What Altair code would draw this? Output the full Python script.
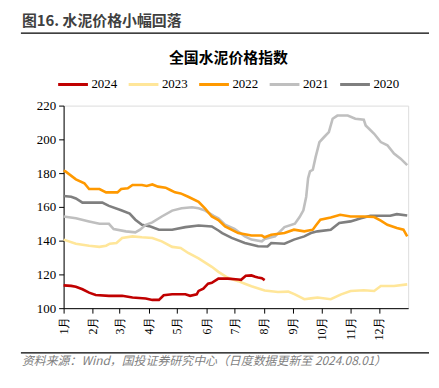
import altair as alt
import pandas as pd

years = ["2024", "2023", "2022", "2021", "2020"]
colors = ["#c00000", "#ffe699", "#ff9900", "#bfbfbf", "#7f7f7f"]

month_starts = [0, 31, 59, 90, 120, 151, 181, 212, 243, 273, 304, 334]
month_labels = ["1月", "2月", "3月", "4月", "5月", "6月", "7月", "8月", "9月", "10月", "11月", "12月"]
y_ticks = [100, 120, 140, 160, 180, 200, 220]

days_2024 = [0, 8, 13, 20, 27, 34, 48, 62, 73, 87, 94, 101, 106, 115, 129, 134, 141, 143, 148, 153, 157, 164, 174, 185, 188, 193, 199, 203, 206, 210, 213]
vals_2024 = [113.5, 113.2, 112.7, 111.2, 109.2, 107.8, 107.3, 107.3, 106.3, 105.7, 104.9, 104.9, 107.6, 108.2, 108.2, 107.3, 108.2, 110.2, 111.6, 114.5, 115.0, 117.5, 117.5, 117.0, 116.8, 119.2, 119.4, 118.6, 118.2, 117.8, 116.6]

days_2023 = [0, 13, 27, 38, 45, 49, 56, 62, 73, 83, 94, 104, 115, 124, 132, 143, 150, 157, 164, 174, 185, 192, 199, 213, 227, 238, 245, 255, 262, 269, 283, 294, 304, 318, 329, 336, 350, 364]
vals_2023 = [140.6, 138.2, 137.0, 136.3, 137.0, 138.2, 138.6, 141.6, 142.5, 142.0, 141.6, 139.6, 136.3, 135.7, 132.7, 129.5, 127.0, 124.5, 121.5, 118.0, 116.0, 114.5, 113.0, 110.5, 109.6, 109.8, 108.2, 105.3, 105.8, 106.3, 105.3, 108.2, 110.2, 110.6, 110.2, 113.1, 113.1, 114.1]

days_2022 = [0, 2, 13, 22, 27, 38, 45, 57, 61, 68, 73, 83, 88, 94, 100, 108, 113, 118, 124, 132, 143, 150, 157, 164, 171, 185, 199, 210, 213, 220, 234, 244, 255, 264, 267, 272, 283, 293, 304, 318, 329, 336, 343, 353, 360, 364]
vals_2022 = [181.5, 181.0, 176.3, 174.0, 170.6, 170.6, 168.6, 168.6, 170.6, 171.0, 173.0, 173.0, 172.4, 173.3, 172.0, 171.4, 170.0, 168.6, 168.0, 166.0, 163.0, 159.0, 154.3, 152.2, 148.4, 144.5, 143.0, 143.0, 142.0, 143.5, 144.5, 146.5, 145.5, 146.5, 148.8, 152.4, 153.7, 155.3, 154.3, 154.3, 154.0, 151.8, 149.4, 147.5, 146.5, 142.5]

days_2021 = [0, 13, 27, 38, 48, 53, 66, 76, 81, 87, 94, 104, 115, 125, 136, 143, 150, 159, 164, 171, 181, 192, 199, 210, 213, 224, 234, 245, 250, 254, 257, 259, 261, 264, 267, 271, 276, 281, 285, 290, 301, 309, 318, 320, 329, 336, 343, 350, 357, 364]
vals_2021 = [154.3, 153.3, 151.4, 150.0, 150.0, 146.9, 145.5, 144.9, 146.5, 149.4, 150.8, 154.3, 157.8, 159.2, 159.8, 159.2, 157.8, 154.7, 153.3, 149.4, 146.9, 142.5, 140.6, 139.6, 141.0, 142.5, 148.0, 150.0, 154.0, 158.0, 166.0, 177.0, 181.0, 182.0, 189.6, 198.4, 201.4, 204.3, 212.2, 214.1, 214.1, 212.2, 211.6, 208.2, 203.3, 198.4, 196.5, 191.6, 188.6, 184.7]

days_2020 = [0, 8, 13, 20, 41, 48, 61, 70, 76, 83, 92, 101, 115, 129, 143, 157, 164, 168, 178, 192, 206, 216, 220, 234, 244, 255, 262, 269, 283, 292, 304, 315, 325, 346, 353, 364]
vals_2020 = [166.5, 166.0, 165.0, 162.5, 162.5, 160.6, 158.0, 156.0, 152.4, 149.4, 148.4, 146.5, 146.5, 148.0, 149.0, 148.4, 146.0, 144.5, 141.6, 138.6, 136.7, 136.5, 138.6, 138.2, 140.6, 142.5, 144.5, 145.5, 146.5, 150.4, 151.4, 153.3, 154.7, 154.7, 155.7, 154.9]

series = {
    "2024": (days_2024, vals_2024),
    "2023": (days_2023, vals_2023),
    "2022": (days_2022, vals_2022),
    "2021": (days_2021, vals_2021),
    "2020": (days_2020, vals_2020),
}
rows = []
for i, y in enumerate(["2020", "2021", "2022", "2023", "2024"]):
    d, v = series[y]
    for dd, vv in zip(d, v):
        rows.append({"day": dd, "value": vv, "year": y, "order": i})
df = pd.DataFrame(rows)

label_expr = "[" + ",".join("'%s'" % m for m in month_labels) + "][indexof([" + ",".join(str(m) for m in month_starts) + "], datum.value)]"

serif = "Liberation Serif"
cjk = "Noto Sans CJK SC"

lines = alt.Chart(df).mark_line(strokeWidth=2.6, interpolate="linear").encode(
    x=alt.X("day:Q", scale=alt.Scale(domain=[0, 365], nice=False, zero=False),
            axis=alt.Axis(values=month_starts, labelExpr=label_expr, labelAngle=270,
                          title=None, grid=False, tickSize=5, labelFontSize=12,
                          labelFont=serif, labelPadding=3, labelColor="#000",
                          domainColor="#000", tickColor="#000")),
    y=alt.Y("value:Q", scale=alt.Scale(domain=[100, 220], nice=False, zero=False),
            axis=alt.Axis(values=y_ticks, title=None, grid=False, tickSize=5,
                          labelFontSize=13, labelFont=serif, labelPadding=3,
                          labelColor="#000", domainColor="#000", tickColor="#000")),
    color=alt.Color("year:N", scale=alt.Scale(domain=years, range=colors),
                    legend=alt.Legend(title=None, orient="none", direction="horizontal",
                                      legendX=-7, legendY=-38, symbolType="stroke",
                                      symbolSize=900, symbolStrokeWidth=3,
                                      labelFont=serif, labelFontSize=13, labelColor="#000",
                                      labelOffset=2, columnPadding=5)),
    detail="year:N",
    order=alt.Order("order:Q"),
)

def txt(s, x, y, **kw):
    return alt.Chart(pd.DataFrame({"t": [s]})).mark_text(**kw).encode(
        text="t:N", x=alt.value(x), y=alt.value(y))

header = txt("图16. 水泥价格小幅回落", -42, -85, align="left", baseline="middle",
             font=cjk, fontSize=15, fontWeight="bold", color="#404040")
title = txt("全国水泥价格指数", 166, -48, align="center", baseline="middle",
            font=cjk, fontSize=15, fontWeight="bold", color="#000")
footer = txt("资料来源：Wind，国投证券研究中心（日度数据更新至 2024.08.01）", -42, 257,
             align="left", baseline="middle", font=cjk, fontSize=12,
             fontStyle="italic", color="#7f7f7f")

rule_top = alt.Chart(pd.DataFrame({"a": [0]})).mark_rule(color="#000", strokeWidth=1.2).encode(
    x=alt.value(-43), x2=alt.value(368), y=alt.value(-73))
rule_bot = alt.Chart(pd.DataFrame({"a": [0]})).mark_rule(color="#000", strokeWidth=1.2).encode(
    x=alt.value(-43), x2=alt.value(368), y=alt.value(249))

chart = alt.layer(lines, header, title, footer, rule_top, rule_bot).properties(
    width=347, height=204,
    autosize=alt.AutoSizeParams(type="none"),
    padding={"left": 56, "top": 97, "right": 23, "bottom": 63},
).configure_view(stroke=None).configure(background="white")

chart.save("out.html", embed_options={"renderer": "svg", "actions": False})
